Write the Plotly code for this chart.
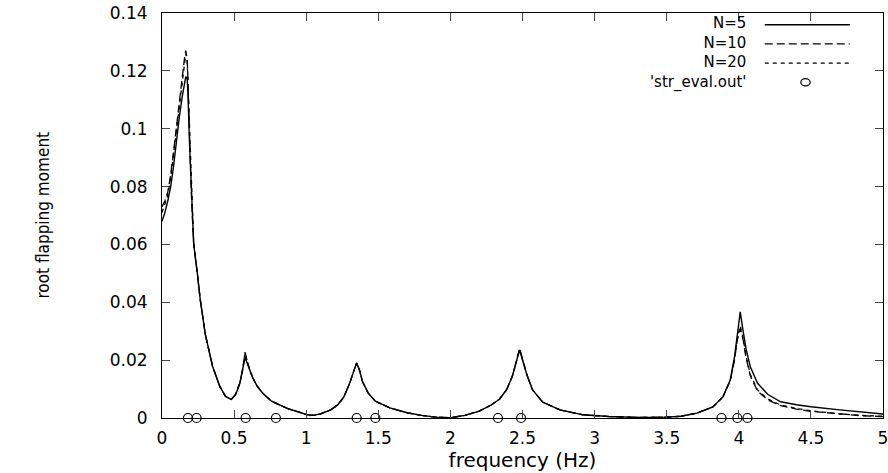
import plotly.graph_objects as go

# frequency grid (Hz) shared by the three curves
freq = [0.00, 0.02, 0.04, 0.06, 0.08, 0.10, 0.12, 0.14, 0.155, 0.165,
        0.175, 0.18, 0.19, 0.20, 0.21, 0.22, 0.245, 0.265, 0.30, 0.35,
        0.40, 0.44, 0.48, 0.51, 0.54, 0.56, 0.576, 0.59, 0.61, 0.63,
        0.66, 0.70, 0.76, 0.82, 0.88, 0.94, 1.00, 1.05, 1.10, 1.17,
        1.22, 1.26, 1.30, 1.33, 1.35, 1.37, 1.39, 1.43, 1.48, 1.58,
        1.70, 1.80, 1.90, 2.00, 2.10, 2.20, 2.28, 2.34, 2.39, 2.43,
        2.46, 2.48, 2.50, 2.53, 2.57, 2.64, 2.76, 2.92, 3.10, 3.30,
        3.50, 3.60, 3.71, 3.82, 3.89, 3.94, 3.97, 3.99, 4.01, 4.03,
        4.05, 4.08, 4.13, 4.20, 4.29, 4.40, 4.50, 4.70, 4.85, 5.00]

n5 = [0.068, 0.071, 0.075, 0.080, 0.087, 0.096, 0.104, 0.111, 0.116, 0.118,
      0.117, 0.112, 0.096, 0.082, 0.070, 0.060, 0.050, 0.041, 0.029, 0.018,
      0.011, 0.0075, 0.0064, 0.0080, 0.0120, 0.0165, 0.0210, 0.0190, 0.0160, 0.0138,
      0.0110, 0.0085, 0.0058, 0.0044, 0.0031, 0.0022, 0.0012, 0.0009, 0.0014, 0.0028,
      0.0046, 0.0072, 0.0118, 0.0162, 0.0190, 0.0165, 0.0126, 0.0086, 0.0058, 0.0035,
      0.0018, 0.0009, 0.0003, 0.0001, 0.0009, 0.0024, 0.0044, 0.0065, 0.0098, 0.0145,
      0.0195, 0.0235, 0.0200, 0.0150, 0.0097, 0.0055, 0.0028, 0.0011, 0.0005, 0.0002,
      0.0003, 0.0006, 0.0017, 0.0038, 0.0073, 0.0130, 0.0210, 0.0290, 0.0367, 0.0300,
      0.0240, 0.0177, 0.0120, 0.0082, 0.0056, 0.0046, 0.0039, 0.0028, 0.0021, 0.0014]

n10 = [0.073, 0.075, 0.078, 0.084, 0.092, 0.101, 0.110, 0.118, 0.124, 0.127,
       0.124, 0.117, 0.098, 0.082, 0.070, 0.060, 0.050, 0.041, 0.029, 0.018,
       0.011, 0.0075, 0.0064, 0.0082, 0.0122, 0.0170, 0.0228, 0.0200, 0.0163, 0.0138,
       0.0110, 0.0085, 0.0058, 0.0044, 0.0031, 0.0022, 0.0012, 0.0009, 0.0014, 0.0028,
       0.0046, 0.0072, 0.0118, 0.0162, 0.0190, 0.0165, 0.0126, 0.0086, 0.0058, 0.0035,
       0.0018, 0.0009, 0.0003, 0.0001, 0.0009, 0.0024, 0.0044, 0.0065, 0.0098, 0.0145,
       0.0200, 0.0240, 0.0205, 0.0150, 0.0097, 0.0055, 0.0028, 0.0011, 0.0005, 0.0002,
       0.0003, 0.0006, 0.0017, 0.0038, 0.0073, 0.0128, 0.0200, 0.0270, 0.0310, 0.0270,
       0.0210, 0.0145, 0.0093, 0.0063, 0.0043, 0.0031, 0.0023, 0.0013, 0.0008, 0.0005]

n20 = [0.071, 0.074, 0.077, 0.083, 0.091, 0.100, 0.109, 0.117, 0.123, 0.126,
       0.123, 0.116, 0.097, 0.082, 0.070, 0.060, 0.050, 0.041, 0.029, 0.018,
       0.011, 0.0075, 0.0064, 0.0081, 0.0121, 0.0168, 0.0225, 0.0198, 0.0162, 0.0138,
       0.0110, 0.0085, 0.0058, 0.0044, 0.0031, 0.0022, 0.0012, 0.0009, 0.0014, 0.0028,
       0.0046, 0.0072, 0.0118, 0.0162, 0.0190, 0.0165, 0.0126, 0.0086, 0.0058, 0.0035,
       0.0018, 0.0009, 0.0003, 0.0001, 0.0009, 0.0024, 0.0044, 0.0065, 0.0098, 0.0145,
       0.0198, 0.0238, 0.0203, 0.0150, 0.0097, 0.0055, 0.0028, 0.0011, 0.0005, 0.0002,
       0.0003, 0.0006, 0.0017, 0.0038, 0.0073, 0.0129, 0.0203, 0.0275, 0.0318, 0.0275,
       0.0215, 0.0150, 0.0097, 0.0066, 0.0045, 0.0033, 0.0025, 0.0014, 0.0009, 0.0006]

# 'str_eval.out' eigenfrequencies
eig_freq = [0.18, 0.24, 0.58, 0.79, 1.35, 1.48, 2.33, 2.49, 3.88, 3.99, 4.06]
eig_val = [0, 0, 0, 0, 0, 0, 0, 0, 0, 0, 0]

legend_names = ["N=5", "N=10", "N=20", "'str_eval.out'"]

FONT = "DejaVu Sans, Liberation Sans, sans-serif"

fig = go.Figure()
fig.add_trace(go.Scatter(x=freq, y=n5, mode="lines", line=dict(color="black", width=1.4)))
fig.add_trace(go.Scatter(x=freq, y=n10, mode="lines", line=dict(color="black", width=1.3, dash="8px,4px")))
fig.add_trace(go.Scatter(x=freq, y=n20, mode="lines", line=dict(color="black", width=1.3, dash="4px,4px")))
fig.add_trace(go.Scatter(x=eig_freq, y=eig_val, mode="markers", cliponaxis=False,
                         marker=dict(symbol="circle-open", size=9, color="black", line=dict(width=1.2))))

# gnuplot-style key: text block on the left, samples on the right
fig.add_annotation(x=0.811, y=0.9, xref="paper", yref="paper",
                   text="<br>".join(legend_names), align="right",
                   showarrow=False, xanchor="right", yanchor="middle", borderpad=0,
                   font=dict(family=FONT, size=15, color="black"))
key_y = [0.971, 0.924, 0.876, 0.829]
dashes = ["solid", "8px,4px", "4px,4px"]
for i in range(3):
    fig.add_shape(type="line", xref="paper", yref="paper", x0=0.836, x1=0.954,
                  y0=key_y[i], y1=key_y[i], line=dict(color="black", width=1.3, dash=dashes[i]))
fig.add_shape(type="circle", xref="paper", yref="paper", x0=0.886, x1=0.899,
              y0=key_y[3] - 0.009, y1=key_y[3] + 0.009, line=dict(color="black", width=1.2))

fig.add_annotation(x=-0.183, y=0.5, xref="paper", yref="paper", text="root flapping moment",
                   textangle=-90, showarrow=False,
                   font=dict(family="Liberation Sans Narrow, DejaVu Sans Condensed, sans-serif", size=17, color="black"))

fig.update_layout(
    width=888, height=473,
    margin=dict(l=162, r=5, t=13, b=55, autoexpand=False),
    paper_bgcolor="white", plot_bgcolor="white",
    showlegend=False,
    font=dict(family=FONT, size=17, color="black"),
)
fig.update_xaxes(range=[0, 5], dtick=0.5, tick0=0, ticks="inside", ticklen=8,
                 showline=True, linecolor="black", linewidth=1, mirror="ticks",
                 showgrid=False, zeroline=False, ticklabelstandoff=5,
                 ticklabeloverflow="allow", automargin=False,
                 title=dict(text="frequency (Hz)", standoff=4))
fig.update_yaxes(range=[0, 0.14], dtick=0.02, tick0=0, ticks="inside", ticklen=8,
                 showline=True, linecolor="black", linewidth=1, mirror="ticks",
                 showgrid=False, zeroline=False, ticklabelstandoff=10, automargin=False)

# page body has a default margin; drop it so the figure sits at the window corner
fig.write_html("out.html", config={"displayModeBar": False},
               post_script="document.body.style.margin='0';document.body.style.overflow='hidden';")
